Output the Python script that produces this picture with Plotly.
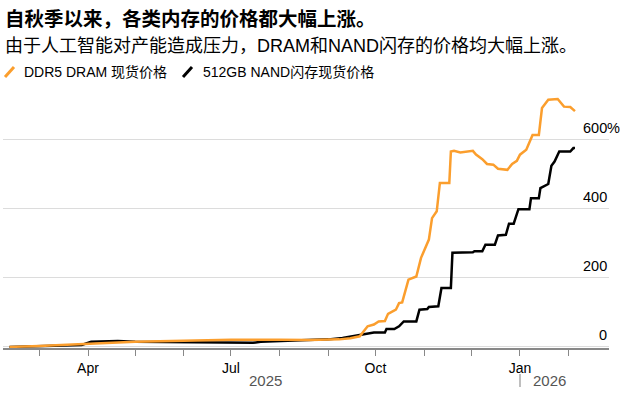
import plotly.graph_objects as go

# ---- data ----
dram_dates = [
    "2025-02-10", "2025-02-20", "2025-03-01", "2025-03-15", "2025-04-01", "2025-04-15",
    "2025-05-01", "2025-06-01", "2025-07-01", "2025-08-01", "2025-08-20", "2025-09-08",
    "2025-09-15", "2025-09-21", "2025-09-23", "2025-09-26", "2025-09-30", "2025-10-03",
    "2025-10-07", "2025-10-09", "2025-10-14", "2025-10-16", "2025-10-18", "2025-10-22",
    "2025-10-27", "2025-10-30", "2025-11-04", "2025-11-06", "2025-11-09", "2025-11-11",
    "2025-11-17", "2025-11-18", "2025-11-20", "2025-11-24", "2025-12-02", "2025-12-04",
    "2025-12-08", "2025-12-11", "2025-12-15", "2025-12-18", "2025-12-24", "2025-12-27",
    "2025-12-30", "2026-01-01", "2026-01-05", "2026-01-07", "2026-01-09", "2026-01-13",
    "2026-01-15", "2026-01-19", "2026-01-25", "2026-01-29", "2026-02-02", "2026-02-05",
]
dram_values = [
    0, 1, 3, 6, 10, 12,
    15, 18, 21, 21, 20, 22,
    25, 31, 42, 60, 65, 74,
    75, 96, 108, 127, 129, 195,
    204, 258, 311, 373, 393, 475,
    475, 566, 568, 563, 568, 557,
    544, 530, 528, 516, 513, 530,
    539, 557, 571, 592, 614, 614,
    692, 716, 718, 696, 695, 683,
]

nand_dates = [
    "2025-02-10", "2025-03-01", "2025-03-28", "2025-04-03", "2025-04-20", "2025-05-01",
    "2025-06-01", "2025-07-01", "2025-07-15", "2025-07-20", "2025-08-01", "2025-08-20",
    "2025-09-01", "2025-09-10", "2025-09-21", "2025-09-30", "2025-10-07", "2025-10-08",
    "2025-10-13", "2025-10-16", "2025-10-19", "2025-10-27", "2025-10-29", "2025-11-03",
    "2025-11-04", "2025-11-10", "2025-11-12", "2025-11-18", "2025-11-19", "2025-12-02",
    "2025-12-03", "2025-12-08", "2025-12-10", "2025-12-16", "2025-12-18", "2025-12-23",
    "2025-12-25", "2025-12-28", "2025-12-31", "2026-01-07", "2026-01-08", "2026-01-13",
    "2026-01-14", "2026-01-19", "2026-01-21", "2026-01-23", "2026-01-26", "2026-02-02",
    "2026-02-04", "2026-02-05",
]
nand_values = [
    0, 2, 6, 15, 17, 15,
    14, 11, 12, 15, 17, 21,
    22, 26, 36, 42, 42, 52,
    52, 60, 74, 74, 108, 110,
    116, 118, 171, 171, 273, 274,
    277, 277, 296, 296, 323, 325,
    357, 357, 399, 399, 431, 431,
    460, 472, 525, 537, 566, 566,
    576, 576,
]

series_names = ["DDR5 DRAM 现货价格", "512GB NAND闪存现货价格"]
y_ticks = [0, 200, 400, 600]
y_tick_text = ["0", "200", "400", "600"]
month_ticks = ["2025-03-01", "2025-04-01", "2025-05-01", "2025-06-01", "2025-07-01",
               "2025-08-01", "2025-09-01", "2025-10-01", "2025-11-01", "2025-12-01",
               "2026-01-01", "2026-02-01"]
month_text = ["", "Apr", "", "", "Jul", "", "", "Oct", "", "", "Jan", ""]

title = "自秋季以来，各类内存的价格都大幅上涨。"
subtitle = "由于人工智能对产能造成压力，DRAM和NAND闪存的价格均大幅上涨。"

# ---- style / layout ----
ORANGE = "#fb9e2d"
BLACK = "#000000"
FONT = "Liberation Sans, Arial, Noto Sans CJK SC, sans-serif"
W, H = 635, 406
ML, MR, MT, MB = 3, 26, 88, 58
PW, PH = W - ML - MR, H - MT - MB


def px(x):
    return (x - ML) / PW


def py(y):
    return (H - MB - y) / PH


fig = go.Figure()
fig.add_trace(go.Scatter(x=nand_dates, y=nand_values, mode="lines", name=series_names[1],
                         line=dict(color=BLACK, width=2.5), showlegend=False))
fig.add_trace(go.Scatter(x=dram_dates, y=dram_values, mode="lines", name=series_names[0],
                         line=dict(color=ORANGE, width=2.5), showlegend=False))

annotations = [
    dict(text="<b>" + title + "</b>", x=px(3), y=py(19), xref="paper", yref="paper",
         xanchor="left", yanchor="middle", showarrow=False,
         font=dict(size=19.5, color="#000", family=FONT)),
    dict(text=subtitle, x=px(3), y=py(46), xref="paper", yref="paper",
         xanchor="left", yanchor="middle", showarrow=False,
         font=dict(size=18, color="#000", family=FONT)),
    dict(text=series_names[0], x=px(22), y=py(72), xref="paper", yref="paper",
         xanchor="left", yanchor="middle", showarrow=False,
         font=dict(size=14, color="#000", family=FONT)),
    dict(text=series_names[1], x=px(201), y=py(72), xref="paper", yref="paper",
         xanchor="left", yanchor="middle", showarrow=False,
         font=dict(size=14, color="#000", family=FONT)),
    dict(text="2025", x=px(265), y=py(380), xref="paper", yref="paper",
         xanchor="center", yanchor="middle", showarrow=False,
         font=dict(size=15, color="#555", family=FONT)),
    dict(text="2026", x=px(549), y=py(380), xref="paper", yref="paper",
         xanchor="center", yanchor="middle", showarrow=False,
         font=dict(size=15, color="#555", family=FONT)),
]
for v, t in zip(y_ticks, y_tick_text):
    annotations.append(dict(text=t, x=1, y=v, xref="paper", yref="y",
                            xanchor="right", yanchor="middle", yshift=11.5,
                            showarrow=False, font=dict(size=14.5, color="#000", family=FONT)))
annotations.append(dict(text="%", x=1, y=y_ticks[-1], xref="paper", yref="y",
                        xanchor="left", yanchor="middle", yshift=11.5, xshift=-4,
                        showarrow=False, font=dict(size=14.5, color="#000", family=FONT)))

shapes = [
    dict(type="line", xref="paper", yref="paper", x0=px(5), y0=py(77), x1=px(14), y1=py(67),
         line=dict(color=ORANGE, width=3)),
    dict(type="line", xref="paper", yref="paper", x0=px(183), y0=py(77), x1=px(192), y1=py(67),
         line=dict(color=BLACK, width=3)),
    dict(type="line", xref="paper", yref="paper", x0=px(520), y0=py(374), x1=px(520), y1=py(387),
         line=dict(color="#aaaaaa", width=1.5)),
]

fig.update_layout(
    width=W, height=H,
    margin=dict(l=ML, r=MR, t=MT, b=MB, pad=0),
    paper_bgcolor="white", plot_bgcolor="white",
    showlegend=False,
    annotations=annotations,
    shapes=shapes,
    font=dict(family=FONT),
    xaxis=dict(
        type="date",
        range=["2025-02-05 21:20", "2026-02-26 15:50"],
        tickvals=month_ticks, ticktext=month_text,
        ticks="outside", ticklen=6, tickwidth=1, tickcolor="#888",
        showline=True, linecolor="#888", linewidth=1.5,
        showgrid=False, zeroline=False,
        tickfont=dict(size=14, color="#000", family=FONT),
        fixedrange=True,
    ),
    yaxis=dict(
        range=[-3, 750],
        tickvals=y_ticks, showticklabels=False,
        showgrid=True, gridcolor="#dcdcdc", gridwidth=1,
        zeroline=False, showline=False, ticks="",
        fixedrange=True,
    ),
)

fig.write_html(
    "out.html",
    config={"displayModeBar": False},
    post_script="document.body.style.margin='0';document.body.style.overflow='hidden';",
)
